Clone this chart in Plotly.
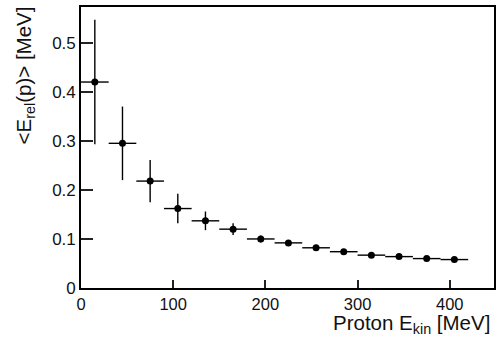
import plotly.graph_objects as go

# Data
e_kin = [15, 45, 75, 105, 135, 165, 195, 225, 255, 285, 315, 345, 375, 405]
e_rel = [0.420, 0.295, 0.218, 0.162, 0.137, 0.120, 0.100, 0.092, 0.082, 0.074, 0.067, 0.064, 0.060, 0.058]
e_rel_err = [0.127, 0.075, 0.043, 0.030, 0.019, 0.012, 0.007, 0.005, 0.004, 0.003, 0.003, 0.003, 0.002, 0.002]
bin_half_width = [15] * len(e_kin)
y_tick_vals = [0, 0.1, 0.2, 0.3, 0.4, 0.5]
y_tick_text = ["0", "0.1", "0.2", "0.3", "0.4", "0.5"]
x_tick_vals = [0, 100, 200, 300, 400]
x_tick_text = ["0", "100", "200", "300", "400"]

FONT = "Liberation Sans, Arial, sans-serif"

fig = go.Figure()
fig.add_trace(go.Scatter(
    x=e_kin, y=e_rel, mode="markers",
    marker=dict(color="black", size=7, symbol="circle"),
    error_x=dict(type="data", array=bin_half_width, color="black", thickness=1.4, width=0),
    error_y=dict(type="data", array=e_rel_err, color="black", thickness=1.4, width=0),
    showlegend=False,
))

fig.update_layout(
    width=498, height=337,
    margin=dict(l=81, r=2, t=7, b=49),
    paper_bgcolor="white", plot_bgcolor="white",
    font=dict(family=FONT, color="black", size=17),
    xaxis=dict(
        range=[0, 448], tickvals=x_tick_vals, ticktext=x_tick_text,
        ticks="inside", ticklen=8, tickwidth=1.5, tickcolor="#222",
        showline=True, linecolor="black", linewidth=1.6, mirror=True,
        showgrid=False, zeroline=False,
        tickfont=dict(size=16.5, family=FONT, color="#111"),
    ),
    yaxis=dict(
        range=[0, 0.573], tickvals=y_tick_vals, ticktext=y_tick_text,
        ticks="inside", ticklen=12, tickwidth=1.5, tickcolor="#222",
        showline=True, linecolor="black", linewidth=1.6, mirror=True,
        showgrid=False, zeroline=False,
        tickfont=dict(size=17, family=FONT, color="#111"),
    ),
    annotations=[
        dict(text="Proton E<sub>kin</sub> [MeV]", xref="paper", yref="paper",
             x=0.994, y=-0.076, xanchor="right", yanchor="top", showarrow=False,
             font=dict(size=20.5, family=FONT, color="#111")),
        dict(text="&lt;E<sub>rel</sub>(p)&gt; [MeV]", xref="paper", yref="paper",
             x=-0.135, y=1.01, xanchor="center", yanchor="top", textangle=-90, showarrow=False,
             font=dict(size=20.5, family=FONT, color="#111")),
    ],
)

fig.write_html("out.html")
